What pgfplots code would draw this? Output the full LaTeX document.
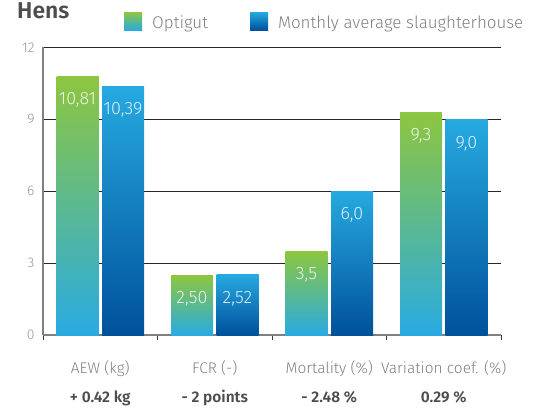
\documentclass[border=0pt]{standalone}
\usepackage{fontspec}
\setmainfont{Fira Sans Light}[BoldFont={Fira Sans SemiBold}]
\usepackage{pgfplots}
\pgfplotsset{compat=1.18}
\definecolor{gA}{RGB}{141,198,63}
\definecolor{gB}{RGB}{41,171,226}
\definecolor{bA}{RGB}{38,169,225}
\definecolor{bB}{RGB}{0,81,155}
\definecolor{tickgray}{RGB}{150,150,150}
\definecolor{labgray}{RGB}{128,128,128}
\definecolor{dgray}{RGB}{77,77,77}
\definecolor{axgray}{RGB}{128,128,128}

\pgfplotsset{
  gbar/.style={draw=none, top color=gA, bottom color=gB, bar shift=-22.75bp,
    legend image code/.code={\shade[top color=gA, bottom color=gB] (0bp,-7bp) rectangle (18bp,11bp);}},
  bbar/.style={draw=none, top color=bA, bottom color=bB, bar shift=22.75bp,
    legend image code/.code={\shade[top color=bA, bottom color=bB] (0bp,-7bp) rectangle (18bp,11bp);}},
  lab/.style={nodes near coords={\pgfmathprintnumber[use comma,fixed,fixed zerofill,precision=#1]{\pgfplotspointmeta}}},
}

\begin{document}
\begin{tikzpicture}[x=1bp,y=1bp]
\useasboundingbox (0,0) rectangle (534,410);
\node[anchor=base west, font=\fontsize{23}{23}\selectfont\bfseries, text=dgray, inner sep=0pt] at (17,391) {Hens};
\begin{axis}[at={(43bp,75bp)}, anchor=south west, scale only axis,
  width=458bp, height=287.5bp,
  ymin=0, ymax=12, xmin=-0.5, xmax=3.5,
  ytick={0,3,6,9,12},
  ymajorgrids, grid style={black!85, line width=0.8bp},
  axis x line*=bottom, axis y line*=left,
  axis line style={axgray, line width=1.5bp, -},
  ytick style={draw=none},
  xtick={0,1,2,3}, minor xtick={-0.5,0.5,1.5,2.5,3.5},
  major x tick style={draw=none},
  minor x tick style={black!75, line width=0.8bp},
  minor tick length=5bp, tick align=inside,
  /pgf/number format/assume math mode=true,
  yticklabel style={font=\fontsize{14}{14}\selectfont, text=tickgray, xshift=-5bp},
  xticklabel style={align=center, font=\fontsize{15.5}{29}\selectfont, text=labgray, yshift=-18bp},
  xticklabels={{AEW (kg)\\\textcolor{dgray}{\bfseries + 0.42 kg}},
               {FCR (-)\\\textcolor{dgray}{\bfseries - 2 points}},
               {Mortality (\%)\\\textcolor{dgray}{\bfseries - 2.48 \%}},
               {Variation coef. (\%)\\\textcolor{dgray}{\bfseries 0.29 \%}}},
  ybar, bar width=42bp,
  point meta=y,
  every node near coord/.append style={anchor=north, text=white, opacity=0.85, font=\fontsize{18}{18}\selectfont, yshift=-13bp},
  legend columns=2,
  legend cell align=left,
  legend style={draw=none, fill=none, at={(axis description cs:0.1769,1.088)}, anchor=west,
    font=\fontsize{17}{17}\selectfont, text=labgray, inner sep=0pt,
    /tikz/every odd column/.append style={column sep=8bp},
    /tikz/every even column/.append style={column sep=40bp}},
]
\addplot[gbar, lab=2] coordinates {(0,10.81)};
\addlegendentry{Optigut}
\addplot[bbar, lab=2] coordinates {(0,10.39)};
\addlegendentry{Monthly average slaughterhouse}
\addplot[gbar, lab=2, forget plot] coordinates {(1,2.50)};
\addplot[bbar, lab=2, forget plot] coordinates {(1,2.52)};
\addplot[gbar, lab=1, forget plot] coordinates {(2,3.5)};
\addplot[bbar, lab=1, forget plot] coordinates {(2,6.0)};
\addplot[gbar, lab=1, forget plot] coordinates {(3,9.3)};
\addplot[bbar, lab=1, forget plot] coordinates {(3,9.0)};
\end{axis}
\end{tikzpicture}
\end{document}
